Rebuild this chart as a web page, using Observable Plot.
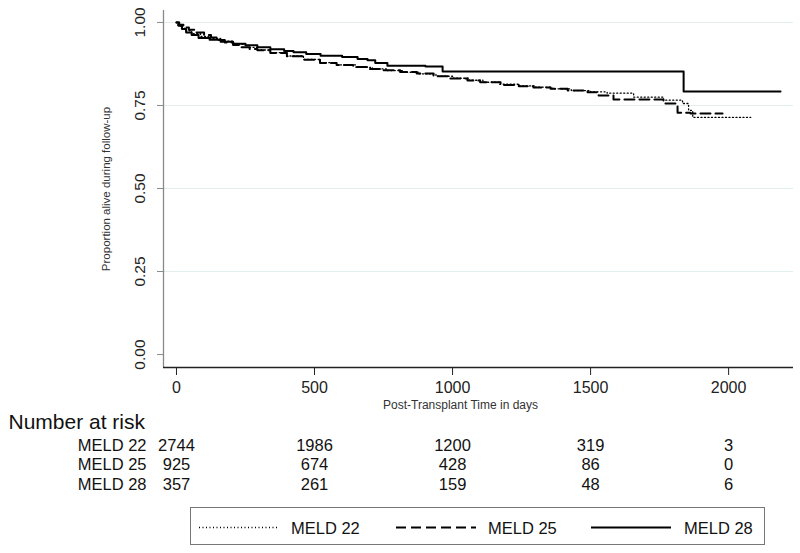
<!DOCTYPE html>
<html>
<head>
<meta charset="utf-8">
<script src="https://cdn.jsdelivr.net/npm/d3@7"></script>
<script src="https://cdn.jsdelivr.net/npm/@observablehq/plot@0.6"></script>
<style>
  html, body { margin: 0; padding: 0; background: #fff; }
  #wrap { position: relative; width: 800px; height: 553px; font-family: "Liberation Sans", Arial, sans-serif; }
  #legend { position: absolute; left: 190px; top: 507px; width: 575px; height: 38px; box-sizing: border-box; border: 1.5px solid #777; }
</style>
</head>
<body>
<div id="wrap"><div id="chart"></div><div id="legend"></div></div>
<script>
// ---- Data ----
const seriesNames = ["MELD 22", "MELD 25", "MELD 28"];

const t22 = [0, 5, 15, 30, 55, 87, 120, 160, 207, 250, 290, 340, 400, 460, 520, 580, 650, 710, 760, 820, 880, 940, 1000, 1060, 1110, 1170, 1240, 1300, 1360, 1430, 1500, 1560, 1656, 1764, 1833, 1855, 1870, 2080];
const s22 = [1.0, 0.99, 0.983, 0.975, 0.966, 0.958, 0.952, 0.944, 0.934, 0.925, 0.917, 0.909, 0.899, 0.889, 0.879, 0.872, 0.865, 0.86, 0.855, 0.85, 0.845, 0.838, 0.832, 0.826, 0.82, 0.814, 0.809, 0.805, 0.80, 0.795, 0.791, 0.787, 0.775, 0.766, 0.756, 0.735, 0.714, 0.714];

const t25 = [0, 10, 25, 45, 70, 100, 125, 150, 175, 205, 233, 265, 293, 340, 400, 460, 520, 580, 640, 700, 750, 810, 870, 931, 990, 1054, 1100, 1174, 1240, 1293, 1355, 1417, 1489, 1529, 1583, 1764, 1815, 1862, 1978];
const s25 = [1.0, 0.993, 0.985, 0.978, 0.97, 0.962, 0.955, 0.947, 0.94, 0.932, 0.925, 0.92, 0.916, 0.908, 0.898, 0.888, 0.878, 0.872, 0.866, 0.86, 0.856, 0.851, 0.846, 0.838, 0.831, 0.825, 0.82, 0.812, 0.808, 0.804, 0.80, 0.795, 0.79, 0.78, 0.768, 0.756, 0.728, 0.726, 0.726];

const t28 = [0, 8, 20, 35, 55, 80, 120, 160, 205, 250, 293, 340, 390, 424, 470, 522, 600, 656, 692, 720, 764, 902, 964, 1837, 2188];
const s28 = [1.0, 0.99, 0.98, 0.97, 0.962, 0.953, 0.948, 0.942, 0.936, 0.931, 0.925, 0.919, 0.914, 0.91, 0.905, 0.90, 0.896, 0.89, 0.886, 0.878, 0.87, 0.867, 0.852, 0.792, 0.792];

const xTicks = [0, 500, 1000, 1500, 2000];
const yTicks = [0, 0.25, 0.5, 0.75, 1];
const yTickLabels = ["0.00", "0.25", "0.50", "0.75", "1.00"];
const gridValues = [0.25, 0.5, 0.75, 1];

const riskTimes = [0, 500, 1000, 1500, 2000];
const risk22 = [2744, 1986, 1200, 319, 3];
const risk25 = [925, 674, 428, 86, 0];
const risk28 = [357, 261, 159, 48, 6];

// ---- Build table ----
const toRows = (name, t, s) => t.map((d, i) => ({ series: name, time: d, surv: s[i] }));
const rows22 = toRows("MELD 22", t22, s22);
const rows25 = toRows("MELD 25", t25, s25);
const rows28 = toRows("MELD 28", t28, s28);

const xDomain = [-47, 2235];
const yDomain = [-0.039, 1.036];

const riskRows = [
  { name: "MELD 22", vals: risk22, dy: 83 },
  { name: "MELD 25", vals: risk25, dy: 102 },
  { name: "MELD 28", vals: risk28, dy: 122 }
];

const chart = Plot.plot({
  width: 800,
  height: 500,
  marginLeft: 163,
  marginRight: 7,
  marginTop: 10,
  marginBottom: 133,
  style: { fontFamily: "Liberation Sans, Arial, sans-serif", color: "#222", background: "#fff", overflow: "visible" },
  x: { domain: xDomain },
  y: { domain: yDomain },
  marks: [
    Plot.ruleY(gridValues, { stroke: "#e2eded", strokeWidth: 1 }),
    Plot.ruleX([xDomain[0]], { stroke: "#8a8a8a", strokeWidth: 1.3 }),
    Plot.ruleY([yDomain[0]], { stroke: "#222", strokeWidth: 1.3 }),
    Plot.axisX(xTicks, { tickSize: 8, tickPadding: 6, fontSize: 16, label: null, stroke: "#222", tickFormat: d => String(d) }),
    Plot.axisY(yTicks, { tickSize: 6, label: null, stroke: "#8a8a8a", tickFormat: () => "" }),
    Plot.text(yTicks, { y: d => d, text: (d, i) => yTickLabels[i], frameAnchor: "left", textAnchor: "middle", dx: -23, rotate: -90, fontSize: 15.5, fill: "#222" }),
    Plot.text(["Proportion alive during follow-up"], { text: d => d, frameAnchor: "left", textAnchor: "middle", dx: -57, rotate: -90, fontSize: 11.5, fill: "#333" }),
    Plot.text(["Post-Transplant Time in days"], { text: d => d, frameAnchor: "bottom", dx: -18, dy: 41, fontSize: 12, fill: "#333" }),
    // survival curves
    Plot.line(rows22, { x: "time", y: "surv", curve: "step-after", stroke: "#000", strokeWidth: 1.3, strokeDasharray: "1,2.5" }),
    Plot.line(rows25, { x: "time", y: "surv", curve: "step-after", stroke: "#000", strokeWidth: 2, strokeDasharray: "10,5" }),
    Plot.line(rows28, { x: "time", y: "surv", curve: "step-after", stroke: "#000", strokeWidth: 2 }),
    // number at risk table
    Plot.text(["Number at risk"], { text: d => d, frameAnchor: "bottom-left", dx: -155, dy: 61, textAnchor: "start", fontSize: 21, fill: "#111" }),
    ...riskRows.flatMap(r => [
      Plot.text([r.name], { text: d => d, frameAnchor: "bottom-left", dx: -17, dy: r.dy, textAnchor: "end", fontSize: 16.5, fill: "#111" }),
      Plot.text(riskTimes, { x: d => d, text: (d, i) => String(r.vals[i]), frameAnchor: "bottom", dy: r.dy, fontSize: 16.5, fill: "#111" })
    ])
  ]
});
document.getElementById("chart").appendChild(chart);

// ---- Legend ----
const legendItems = [
  { name: seriesNames[0], x1: 8, x2: 88, tx: 100, dash: "1,2.5", w: 1.3 },
  { name: seriesNames[1], x1: 205, x2: 285, tx: 297, dash: "10,5", w: 2 },
  { name: seriesNames[2], x1: 400, x2: 480, tx: 493, dash: null, w: 2 }
];
const lsvg = d3.select("#legend").append("svg").attr("width", 572).attr("height", 35);
legendItems.forEach(it => {
  const l = lsvg.append("line").attr("x1", it.x1).attr("x2", it.x2).attr("y1", 19.5).attr("y2", 19.5)
    .attr("stroke", "#000").attr("stroke-width", it.w);
  if (it.dash) l.attr("stroke-dasharray", it.dash);
  lsvg.append("text").attr("x", it.tx).attr("y", 25.5).attr("font-size", 16.5)
    .attr("font-family", "Liberation Sans, Arial, sans-serif").attr("fill", "#111").text(it.name);
});
</script>
</body>
</html>
